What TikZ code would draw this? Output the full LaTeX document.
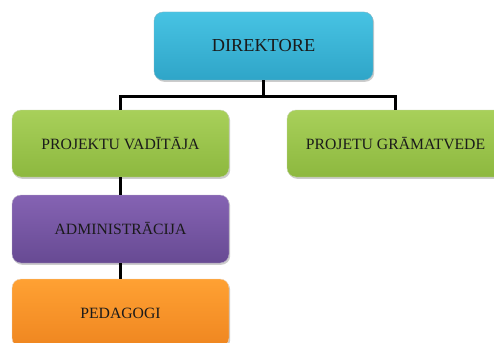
\documentclass[tikz,border=0pt]{standalone}
\usepackage{fontspec}
\setmainfont{Liberation Serif}
\usetikzlibrary{shadows}
\definecolor{cyanT}{HTML}{47C3E3}
\definecolor{cyanB}{HTML}{2FA5C8}
\definecolor{greenT}{HTML}{A8D05A}
\definecolor{greenB}{HTML}{8DB83F}
\definecolor{purT}{HTML}{8563B3}
\definecolor{purB}{HTML}{674A93}
\definecolor{orT}{HTML}{FFA133}
\definecolor{orB}{HTML}{EF8620}
\definecolor{txt}{HTML}{1A1A1A}
\tikzset{
  box/.style={rounded corners=9pt, minimum width=217pt, minimum height=67pt,
    inner sep=0pt, text=txt, font=\fontsize{15.7}{18}\selectfont,
    drop shadow={shadow xshift=1.2pt, shadow yshift=-1.8pt, opacity=0.4}},
  cyanbox/.style={box, top color=cyanT, bottom color=cyanB, draw=cyanB!80!black!60},
  greenbox/.style={box, top color=greenT, bottom color=greenB, draw=greenB!80!black!40},
  purbox/.style={box, top color=purT, bottom color=purB, draw=purB!80!black!40},
  orbox/.style={box, top color=orT, bottom color=orB, draw=orB!80!black!30},
  link/.style={draw=black, line width=2.2pt}
}
\begin{document}
\begin{tikzpicture}[x=1pt,y=1pt]
\useasboundingbox (0,0) rectangle (494,-342);
\clip (0,0) rectangle (494,-342);
\fill[white] (0,0) rectangle (494,-342);
\coordinate (jl) at (120.5,-96.5);
\coordinate (jm) at (263.5,-96.5);
\coordinate (jr) at (395.5,-96.5);
\node[cyanbox, minimum width=219pt, minimum height=68pt, font=\fontsize{18.3}{21}\selectfont] (dir) at (263.5,-46) {DIREKTORE};
\node[greenbox] (pv) at (120.5,-143.5) {PROJEKTU VADĪTĀJA};
\node[greenbox] (pg) at (395.5,-143.5) {PROJETU GRĀMATVEDE};
\node[purbox, minimum height=68pt] (adm) at (120.5,-229) {ADMINISTRĀCIJA};
\node[orbox, minimum height=68pt] (ped) at (120.5,-313) {PEDAGOGI};
\draw[link] (dir.south) -- (jm);
\draw[link, line cap=rect] (jl) -- (jr);
\draw[link] (jl) -- (pv.north);
\draw[link] (jr) -- (pg.north);
\draw[link] (pv.south) -- (adm.north);
\draw[link] (adm.south) -- (ped.north);
\end{tikzpicture}
\end{document}
